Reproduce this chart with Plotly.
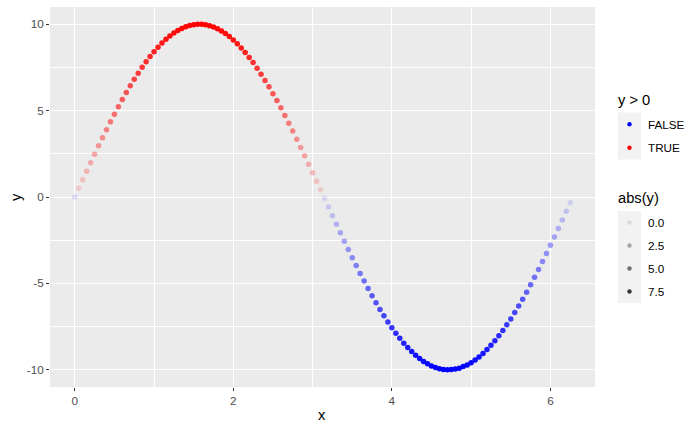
import plotly.graph_objects as go

# ---- data ----
x_vals = [0.00, 0.05, 0.10, 0.15, 0.20, 0.25, 0.30, 0.35, 0.40, 0.45, 0.50, 0.55, 0.60, 0.65, 0.70,
          0.75, 0.80, 0.85, 0.90, 0.95, 1.00, 1.05, 1.10, 1.15, 1.20, 1.25, 1.30, 1.35, 1.40, 1.45,
          1.50, 1.55, 1.60, 1.65, 1.70, 1.75, 1.80, 1.85, 1.90, 1.95, 2.00, 2.05, 2.10, 2.15, 2.20,
          2.25, 2.30, 2.35, 2.40, 2.45, 2.50, 2.55, 2.60, 2.65, 2.70, 2.75, 2.80, 2.85, 2.90, 2.95,
          3.00, 3.05, 3.10, 3.15, 3.20, 3.25, 3.30, 3.35, 3.40, 3.45, 3.50, 3.55, 3.60, 3.65, 3.70,
          3.75, 3.80, 3.85, 3.90, 3.95, 4.00, 4.05, 4.10, 4.15, 4.20, 4.25, 4.30, 4.35, 4.40, 4.45,
          4.50, 4.55, 4.60, 4.65, 4.70, 4.75, 4.80, 4.85, 4.90, 4.95, 5.00, 5.05, 5.10, 5.15, 5.20,
          5.25, 5.30, 5.35, 5.40, 5.45, 5.50, 5.55, 5.60, 5.65, 5.70, 5.75, 5.80, 5.85, 5.90, 5.95,
          6.00, 6.05, 6.10, 6.15, 6.20, 6.25]
y_vals = [0.00, 0.50, 1.00, 1.49, 1.99, 2.47, 2.96, 3.43, 3.89, 4.35, 4.79, 5.23, 5.65, 6.05, 6.44,
          6.82, 7.17, 7.51, 7.83, 8.13, 8.41, 8.67, 8.91, 9.13, 9.32, 9.49, 9.64, 9.76, 9.85, 9.93,
          9.97, 10.00, 10.00, 9.97, 9.92, 9.84, 9.74, 9.61, 9.46, 9.29, 9.09, 8.87, 8.63, 8.37, 8.08,
          7.78, 7.46, 7.11, 6.75, 6.38, 5.98, 5.58, 5.16, 4.72, 4.27, 3.82, 3.35, 2.87, 2.39, 1.90,
          1.41, 0.91, 0.42, -0.08, -0.58, -1.08, -1.58, -2.07, -2.56, -3.04, -3.51, -3.97, -4.43, -4.87, -5.30,
          -5.72, -6.12, -6.51, -6.88, -7.23, -7.57, -7.89, -8.18, -8.46, -8.72, -8.95, -9.16, -9.35, -9.52, -9.66,
          -9.78, -9.87, -9.94, -9.98, -10.00, -9.99, -9.96, -9.91, -9.82, -9.72, -9.59, -9.44, -9.26, -9.06, -8.83,
          -8.59, -8.32, -8.04, -7.73, -7.40, -7.06, -6.69, -6.31, -5.92, -5.51, -5.08, -4.65, -4.20, -3.74, -3.27,
          -2.79, -2.31, -1.82, -1.33, -0.83, -0.33]
color_labels = ["FALSE", "TRUE"]
color_values = ["#0000FF", "#FF0000"]
alpha_breaks = [0.0, 2.5, 5.0, 7.5]
x_ticks = [0, 2, 4, 6]
y_ticks = [-10, -5, 0, 5, 10]

# alpha scale (ggplot default range 0.1..1)
abs_y = [abs(v) for v in y_vals]
amin, amax = min(abs_y), max(abs_y)
def alpha_of(v):
    return 0.1 + 0.9 * (v - amin) / (amax - amin)

fig = go.Figure()
for lab, col in zip(color_labels, color_values):
    want = (lab == "TRUE")
    xs = [xv for xv, yv in zip(x_vals, y_vals) if (yv > 0) == want]
    ys = [yv for yv in y_vals if (yv > 0) == want]
    fig.add_trace(go.Scatter(
        x=xs, y=ys, mode="markers", name=lab, showlegend=False,
        marker=dict(color=col, size=5.5, opacity=[alpha_of(abs(v)) for v in ys],
                    line=dict(width=0)),
    ))

# ---- layout geometry ----
L, R, T, B = 50, 105, 7, 45
W, H = 700, 432
pw, ph = W - L - R, H - T - B
def px(xp):
    return (xp - L) / pw
def py(yp):
    return (H - B - yp) / ph

FONT = "Liberation Sans, Arial, sans-serif"
x_min, x_max = min(x_vals), max(x_vals)
y_min, y_max = min(y_vals), max(y_vals)
xpad = 0.05 * (x_max - x_min)
ypad = 0.05 * (y_max - y_min)

shapes = []
annotations = []

# axis titles
annotations.append(dict(text="x", x=px(322), y=py(415), xref="paper", yref="paper",
                        xanchor="center", yanchor="middle", showarrow=False,
                        font=dict(family=FONT, size=14.7, color="#000000")))
annotations.append(dict(text="y", x=px(16), y=py(197), xref="paper", yref="paper",
                        xanchor="center", yanchor="middle", showarrow=False, textangle=-90,
                        font=dict(family=FONT, size=14.7, color="#000000")))

def legend_block(title, title_y, labels, key_top, step, colors):
    annotations.append(dict(text=title, x=px(616), y=py(title_y), xref="paper", yref="paper",
                            xanchor="left", yanchor="middle", showarrow=False,
                            font=dict(family=FONT, size=14.7, color="#000000")))
    shapes.append(dict(type="rect", xref="paper", yref="paper", x0=px(618), x1=px(641),
                       y0=py(key_top + step * len(labels)), y1=py(key_top),
                       fillcolor="#F2F2F2", line=dict(width=0), layer="above"))
    for i, (lab, c) in enumerate(zip(labels, colors)):
        cy = key_top + step * (i + 0.5)
        shapes.append(dict(type="circle", xref="paper", yref="paper",
                           xsizemode="pixel", ysizemode="pixel",
                           xanchor=px(629.5), yanchor=py(cy),
                           x0=-2.2, x1=2.2, y0=-2.2, y1=2.2,
                           fillcolor=c, line=dict(width=0), layer="above"))
        annotations.append(dict(text=lab, x=px(646), y=py(cy), xref="paper", yref="paper",
                                xanchor="left", yanchor="middle", showarrow=False,
                                font=dict(family=FONT, size=11.7, color="#000000")))

legend_block("y &gt; 0", 100, color_labels, 112.5, 23.5, color_values)
legend_block("abs(y)", 198, [f"{b:.1f}" for b in alpha_breaks], 211, 23,
             [f"rgba(0,0,0,{alpha_of(b):.3f})" for b in alpha_breaks])

axis_common = dict(
    showgrid=True, gridcolor="#FFFFFF", gridwidth=1.1, zeroline=False, showline=False,
    ticks="outside", ticklen=3, tickwidth=1.1, tickcolor="#333333", automargin=False,
    tickfont=dict(family=FONT, size=11.7, color="#4D4D4D"),
)

fig.update_layout(
    width=W, height=H,
    margin=dict(l=L, r=R, t=T, b=B, autoexpand=False),
    paper_bgcolor="#FFFFFF", plot_bgcolor="#EBEBEB",
    showlegend=False,
    xaxis=dict(range=[x_min - xpad, x_max + xpad], tickvals=x_ticks,
               ticktext=[str(v) for v in x_ticks],
               minor=dict(tickvals=[1, 3, 5], showgrid=True, gridcolor="#FFFFFF", gridwidth=0.55, ticks=""),
               **axis_common),
    yaxis=dict(range=[y_min - ypad, y_max + ypad], tickvals=y_ticks,
               ticktext=[str(v) for v in y_ticks],
               minor=dict(tickvals=[-7.5, -2.5, 2.5, 7.5], showgrid=True, gridcolor="#FFFFFF", gridwidth=0.55, ticks=""),
               **axis_common),
    shapes=shapes,
    annotations=annotations,
)

fig.write_html("out.html", config={"displayModeBar": False},
               post_script="document.body.style.margin='0';document.body.style.padding='0';")
